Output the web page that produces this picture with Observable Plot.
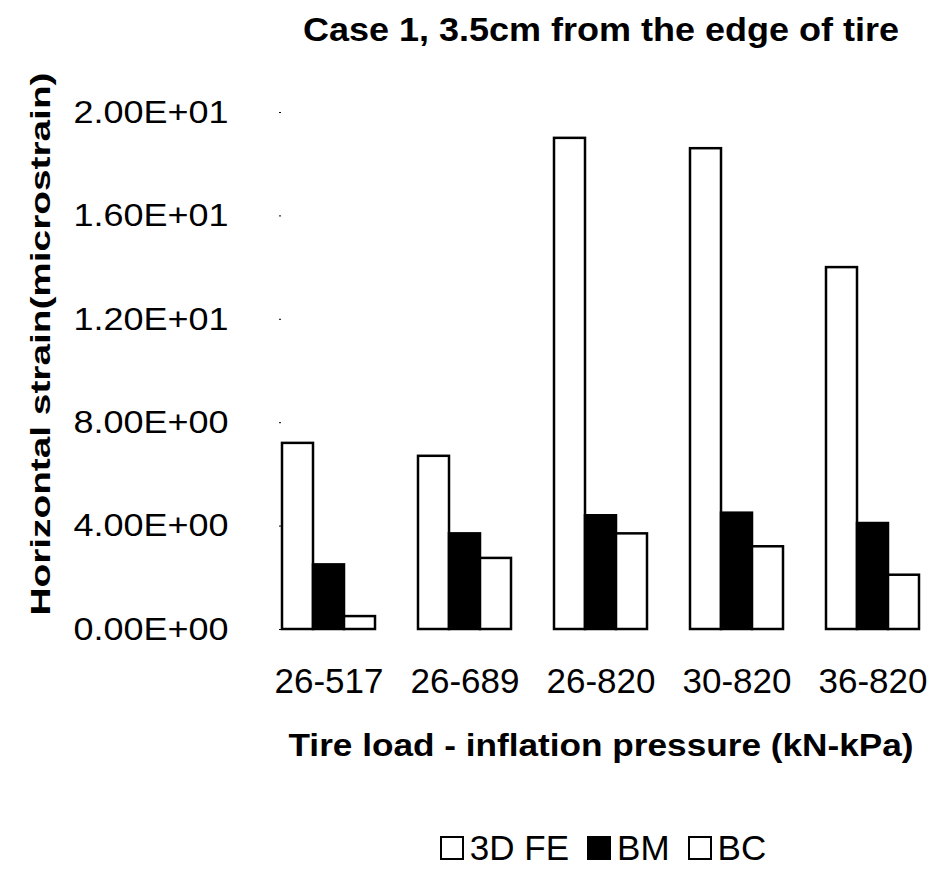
<!DOCTYPE html>
<html>
<head>
<meta charset="utf-8">
<script src="https://cdn.jsdelivr.net/npm/d3@7"></script>
<script src="https://cdn.jsdelivr.net/npm/@observablehq/plot@0.6"></script>
<style>
  html, body { margin: 0; padding: 0; background: white; }
  #chart { width: 942px; }
  .legend {
    display: flex; align-items: center; justify-content: center;
    box-sizing: border-box; width: 942px; padding-left: 264px;
    margin-top: 30px; font: 35px/35px "Liberation Sans", Arial, sans-serif; color: black;
  }
  .legend .item { display: flex; align-items: center; margin: 0 9px; }
  .legend .swatch { width: 24px; height: 24px; box-sizing: border-box; border: 2.5px solid black; margin-right: 6px; }
</style>
</head>
<body>
<div id="chart"></div>
<script>
// Tire load - inflation pressure combinations (kN-kPa)
const loads = ["26-517", "26-689", "26-820", "30-820", "36-820"];
// Horizontal strain (microstrain) per method
const seriesNames = ["3D FE", "BM", "BC"];
const fe3d = [7.2, 6.7, 19.0, 18.6, 14.0];
const bm = [2.5, 3.7, 4.4, 4.5, 4.1];
const bc = [0.5, 2.75, 3.7, 3.2, 2.1];
const seriesFills = ["white", "black", "white"];
const yTicks = [0, 4, 8, 12, 16, 20];

const title = "Case 1, 3.5cm from the edge of tire";
const xTitle = "Tire load - inflation pressure (kN-kPa)";
const yTitle = "Horizontal strain(microstrain)";

const seriesValues = [fe3d, bm, bc];
const data = loads.flatMap((load, i) =>
  seriesNames.map((series, j) => ({load, series, value: seriesValues[j][i]}))
);

// Spreadsheet-style scientific notation, e.g. 1.60E+01
const sci = (v) => {
  const [m, e] = v.toExponential(2).split("e");
  const n = +e;
  return `${m}E${n < 0 ? "-" : "+"}${String(Math.abs(n)).padStart(2, "0")}`;
};

const chart = Plot.plot({
  width: 942,
  height: 800,
  marginTop: 112,
  marginBottom: 171,
  marginLeft: 260,
  marginRight: 0,
  style: {fontFamily: "'Liberation Sans', Arial, sans-serif", background: "white", color: "black"},
  fx: {domain: loads, paddingInner: 0.3, paddingOuter: 0.15, label: null},
  x: {domain: seriesNames, padding: 0, axis: null},
  y: {domain: [0, 20], label: null},
  color: {domain: seriesNames, range: seriesFills},
  marks: [
    Plot.barY(data, {fx: "load", x: "series", y: "value", fill: "series", stroke: "black", strokeWidth: 2.5}),
    Plot.axisY(yTicks, {tickFormat: sci, tickSize: 2, tickPadding: 51, fontSize: 32, label: null}),
    Plot.axisFx({anchor: "bottom", tickSize: 0, tickPadding: 39, fontSize: 35, label: null}),
    Plot.text([title], {facet: "super", frameAnchor: "top", lineAnchor: "middle", dy: -82, fontSize: 33, fontWeight: "bold"}),
    Plot.text([xTitle], {facet: "super", frameAnchor: "bottom", lineAnchor: "middle", dy: 116, fontSize: 32, fontWeight: "bold"}),
    Plot.text([yTitle], {facet: "super", frameAnchor: "left", lineAnchor: "middle", rotate: -90, fontSize: 27, fontWeight: "bold"})
  ]
});

// Typographic touches: widened headings and tick labels, elongated vertical title
const root = d3.select(chart);
const stretch = (sel, len) => sel.attr("textLength", len).attr("lengthAdjust", "spacingAndGlyphs");
let yTitleNode = null;
root.selectAll("text").each(function () {
  const t = this.textContent;
  if (t === title) stretch(d3.select(this), 596);
  if (t === xTitle) stretch(d3.select(this), 625);
  if (t === yTitle) { stretch(d3.select(this), 543); yTitleNode = this; }
});
stretch(root.selectAll('g[aria-label="y-axis tick label"] text'), 155);

document.getElementById("chart").appendChild(chart);

// Centre the vertical title in the left gutter, a little above the frame's middle
if (yTitleNode) {
  const svgBox = chart.getBoundingClientRect();
  const box = yTitleNode.getBoundingClientRect();
  const dxs = 41 - (box.left + box.width / 2 - svgBox.left);
  const dys = 344 - (box.top + box.height / 2 - svgBox.top);
  const m = yTitleNode.parentNode.getScreenCTM().inverse();
  const lx = m.a * dxs + m.c * dys, ly = m.b * dxs + m.d * dys;
  const tr = yTitleNode.getAttribute("transform") || "";
  yTitleNode.setAttribute("transform", `translate(${lx},${ly}) ${tr}`);
}

// Legend below the plot
const legend = d3.select("#chart").append("div").attr("class", "legend");
seriesNames.forEach((name, i) => {
  const item = legend.append("div").attr("class", "item");
  item.append("div").attr("class", "swatch").style("background", seriesFills[i]);
  item.append("span").text(name);
});
</script>
</body>
</html>
